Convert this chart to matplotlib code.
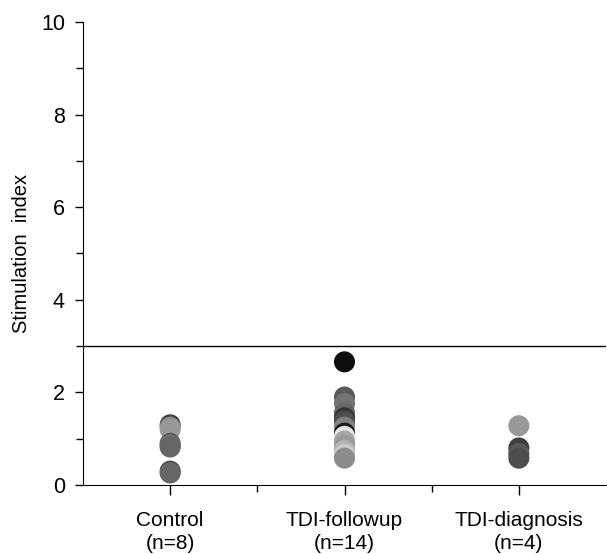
import numpy as np
import matplotlib.pyplot as plt
from matplotlib.ticker import MultipleLocator, FixedLocator

plt.rcParams['font.family'] = ['Liberation Sans', 'DejaVu Sans']

groups = ['Control\n(n=8)', 'TDI-followup\n(n=14)', 'TDI-diagnosis\n(n=4)']
control = [1.30, 1.25, 1.20, 0.90, 0.86, 0.82, 0.30, 0.26]
followup = [2.66, 1.90, 1.76, 1.56, 1.45, 1.38, 1.25, 1.12, 1.05, 0.95,
            0.85, 0.75, 0.66, 0.58]
diagnosis = [1.28, 0.80, 0.68, 0.58]
control_grays = ['0.25', '0.55', '0.6', '0.35', '0.45', '0.4', '0.3', '0.4']
followup_grays = ['0.05', '0.35', '0.45', '0.4', '0.2', '0.3', '0.5', '0.1',
                  '0.9', '0.65', '0.6', '0.7', '0.8', '0.55']
diagnosis_grays = ['0.6', '0.25', '0.35', '0.3']
threshold = 3.0

fig = plt.figure(figsize=(6.07, 5.54), dpi=100)
ax = fig.add_axes([83 / 607, 69 / 554, 523 / 607, 463 / 554])

for i, (vals, grays) in enumerate([(control, control_grays),
                                   (followup, followup_grays),
                                   (diagnosis, diagnosis_grays)]):
    ax.scatter([i] * len(vals), vals, s=230, c=grays, edgecolors='none',
               zorder=3)

ax.axhline(threshold, color='black', linewidth=1)

ax.set_xlim(-0.5, 2.5)
ax.set_ylim(0, 10)
ax.set_xticks(range(len(groups)))
ax.set_xticklabels(groups, fontsize=15, linespacing=1.25)
ax.xaxis.set_minor_locator(FixedLocator([0.5, 1.5]))
ax.yaxis.set_major_locator(MultipleLocator(2))
ax.yaxis.set_minor_locator(MultipleLocator(1))
ax.tick_params(axis='y', labelsize=15.5, length=6, width=1, pad=7)
ax.tick_params(axis='x', length=7, width=1, pad=12)
ax.tick_params(which='minor', length=5, width=1)
ax.set_ylabel('Stimulation  index', fontsize=14.5, labelpad=7)

ax.spines['top'].set_visible(False)
ax.spines['right'].set_visible(False)

fig.savefig('out.png', dpi=100)
